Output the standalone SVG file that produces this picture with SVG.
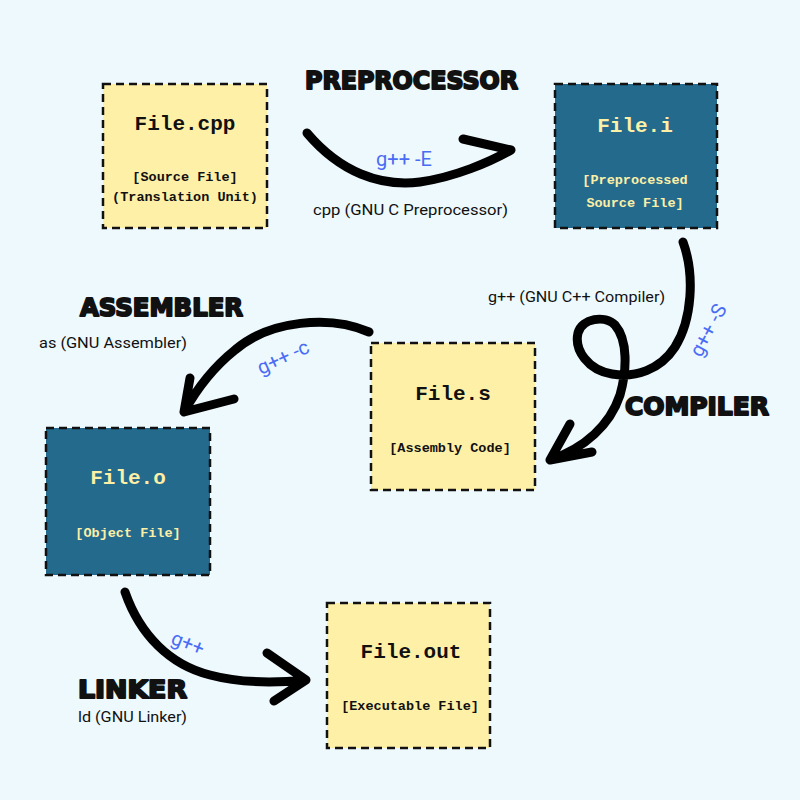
<svg xmlns="http://www.w3.org/2000/svg" width="800" height="800" viewBox="0 0 800 800">
<style>
.bg{fill:#EEF9FD}
.box{stroke:#111;stroke-width:2.5;stroke-dasharray:8 5}
.light{fill:#FFF0A8}
.dark{fill:#236A8D}
.t1{font-family:"Liberation Mono","Courier New",monospace;font-weight:bold;font-size:21px;text-anchor:middle}
.t2{font-family:"Liberation Mono","Courier New",monospace;font-weight:bold;font-size:13.5px;text-anchor:middle}
.onlight{fill:#111}
.ondark{fill:#FCEFA6}
.head{font-family:"DejaVu Sans",sans-serif;font-weight:bold;font-size:25px;fill:#111;stroke:#111;stroke-width:2;stroke-linejoin:round}
.sub{font-family:Roboto,"Liberation Sans",sans-serif;font-size:14.5px;fill:#111}
.cmd{font-family:Roboto,"Liberation Sans",sans-serif;font-size:20px;fill:#4A6CF5;text-anchor:middle}
.arr{fill:none;stroke:#000;stroke-width:9;stroke-linecap:round;stroke-linejoin:round}
</style>
<rect class="bg" x="0" y="0" width="800" height="800"/>

<g id="connectors">
  <path class="arr" d="M307,133 C340,172 380,187 420,182 C455,177 490,162 511,150 M463,139 L511,150"/>
  <path class="arr" d="M683,242 C695,275 692,320 675,347 C660,370 635,378 612,374 C588,370 574,350 578,333 C582,318 605,315 615,325 C628,340 627,370 620,395 C610,425 585,448 550,460 M570,424 L550,460 L592,452"/>
  <path class="arr" d="M369,332 C330,315 270,320 235,350 C210,370 195,392 184,412 M190,378 L184,412 L234,399"/>
  <path class="arr" d="M125,592 C140,635 170,665 210,675 C240,683 275,683 306,680 M267,653 L306,680 L274,701"/>
  <text class="cmd" x="404" y="166">g++ -E</text>
  <text class="cmd" transform="translate(708,330) rotate(-62)" y="7">g++ -S</text>
  <text class="cmd" transform="translate(283,357) rotate(-25)" y="7">g++ -c</text>
  <text class="cmd" transform="translate(188,643) rotate(22)" y="7">g++</text>
</g>

<g id="labels">
  <text class="head" x="305" y="89" textLength="213" lengthAdjust="spacingAndGlyphs">PREPROCESSOR</text>
  <text class="sub" x="313" y="215" textLength="195" lengthAdjust="spacingAndGlyphs">cpp (GNU C Preprocessor)</text>
  <text class="head" x="625" y="415" textLength="144" lengthAdjust="spacingAndGlyphs">COMPILER</text>
  <text class="sub" x="488" y="302" textLength="177" lengthAdjust="spacingAndGlyphs">g++ (GNU C++ Compiler)</text>
  <text class="head" x="80" y="316" textLength="163" lengthAdjust="spacingAndGlyphs">ASSEMBLER</text>
  <text class="sub" x="39" y="348" textLength="148" lengthAdjust="spacingAndGlyphs">as (GNU Assembler)</text>
  <text class="head" x="78" y="698" textLength="109" lengthAdjust="spacingAndGlyphs">LINKER</text>
  <text class="sub" x="78" y="722" textLength="109" lengthAdjust="spacingAndGlyphs">ld (GNU Linker)</text>
</g>

<g id="file-cpp">
  <rect class="box light" x="103" y="84" width="164" height="144"/>
  <text class="t1 onlight" x="185" y="130">File.cpp</text>
  <text class="t2 onlight" x="185" y="181">[Source File]</text>
  <text class="t2 onlight" x="185" y="201" font-size="12.5">(Translation Unit)</text>
</g>

<g id="file-i">
  <rect class="box dark" x="555" y="84" width="162" height="144"/>
  <text class="t1 ondark" x="635" y="132">File.i</text>
  <text class="t2 ondark" x="635" y="184">[Preprocessed</text>
  <text class="t2 ondark" x="635" y="207">Source File]</text>
</g>

<g id="file-s">
  <rect class="box light" x="371" y="343" width="164" height="147"/>
  <text class="t1 onlight" x="453" y="400">File.s</text>
  <text class="t2 onlight" x="450" y="452">[Assembly Code]</text>
</g>

<g id="file-o">
  <rect class="box dark" x="46" y="428" width="164" height="147"/>
  <text class="t1 ondark" x="128" y="484">File.o</text>
  <text class="t2 ondark" x="128" y="537">[Object File]</text>
</g>

<g id="file-out">
  <rect class="box light" x="327" y="603" width="163" height="145"/>
  <text class="t1 onlight" x="411" y="658">File.out</text>
  <text class="t2 onlight" x="410" y="710">[Executable File]</text>
</g>
</svg>
